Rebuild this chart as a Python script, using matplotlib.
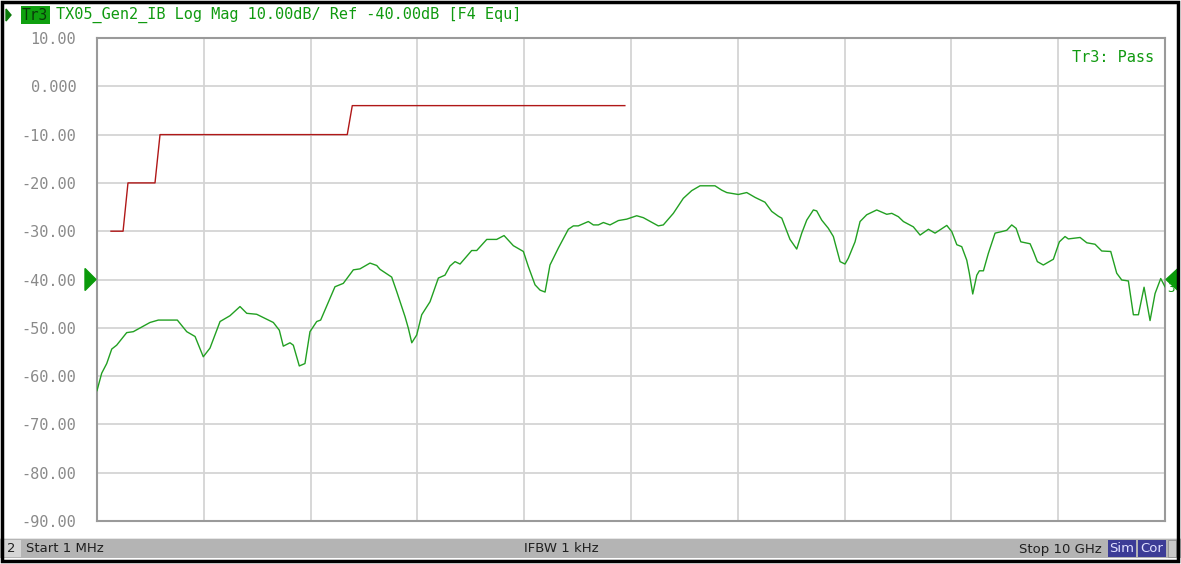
import matplotlib
matplotlib.use('Agg')
import matplotlib.pyplot as plt
from matplotlib.patches import Rectangle, Polygon
import numpy as np

W, H = 1181, 564

# measured trace, frequency in GHz, magnitude in dB
freq_ghz = [0.001, 0.045, 0.092, 0.139, 0.185, 0.279, 0.341, 0.497, 0.575, 0.753,
            0.841, 0.919, 0.996, 1.059, 1.153, 1.246, 1.340, 1.403, 1.496, 1.652,
            1.708, 1.745, 1.808, 1.839, 1.895, 1.948, 1.995, 2.058, 2.095, 2.229,
            2.307, 2.401, 2.463, 2.557, 2.620, 2.651, 2.760, 2.807, 2.885, 2.916,
            2.948, 2.994, 3.041, 3.119, 3.197, 3.259, 3.306, 3.353, 3.400, 3.509,
            3.556, 3.650, 3.743, 3.812, 3.899, 3.993, 4.039, 4.102, 4.149, 4.196,
            4.242, 4.320, 4.414, 4.461, 4.507, 4.601, 4.648, 4.695, 4.742, 4.804,
            4.882, 4.961, 5.054, 5.116, 5.256, 5.303, 5.397, 5.490, 5.569, 5.647,
            5.787, 5.850, 5.897, 6.005, 6.084, 6.162, 6.255, 6.318, 6.380, 6.412,
            6.489, 6.552, 6.599, 6.646, 6.708, 6.739, 6.786, 6.848, 6.895, 6.958,
            7.004, 7.035, 7.098, 7.145, 7.207, 7.301, 7.395, 7.442, 7.504, 7.551,
            7.644, 7.707, 7.785, 7.847, 7.957, 8.004, 8.051, 8.097, 8.144, 8.168,
            8.200, 8.238, 8.262, 8.300, 8.346, 8.409, 8.487, 8.519, 8.565, 8.606,
            8.650, 8.737, 8.768, 8.805, 8.861, 8.955, 9.011, 9.064, 9.095, 9.205,
            9.268, 9.345, 9.408, 9.492, 9.548, 9.595, 9.657, 9.704, 9.751, 9.804,
            9.860, 9.907, 9.960, 10.000]
trace_db = [-63.0, -59.4, -57.4, -54.4, -53.6, -51.0, -50.8, -48.9, -48.4, -48.4,
            -50.8, -51.8, -56.0, -54.2, -48.7, -47.5, -45.6, -47.0, -47.2, -48.9,
            -50.5, -53.8, -53.1, -53.6, -57.9, -57.4, -50.8, -48.7, -48.4, -41.5,
            -40.8, -38.0, -37.8, -36.6, -37.1, -37.9, -39.5, -42.5, -47.7, -50.1,
            -53.1, -51.5, -47.3, -44.6, -39.7, -39.1, -37.2, -36.3, -36.8, -34.0,
            -34.0, -31.7, -31.7, -30.9, -33.0, -34.2, -37.3, -41.1, -42.2, -42.6,
            -37.0, -33.5, -29.6, -28.9, -28.9, -28.0, -28.7, -28.7, -28.2, -28.7,
            -27.8, -27.5, -26.8, -27.2, -28.9, -28.7, -26.3, -23.2, -21.6, -20.6,
            -20.6, -21.5, -22.0, -22.4, -22.0, -23.0, -24.0, -25.9, -26.9, -27.3,
            -31.7, -33.7, -30.4, -27.7, -25.6, -25.8, -27.7, -29.4, -31.1, -36.3,
            -36.8, -35.6, -32.2, -28.0, -26.6, -25.6, -26.5, -26.3, -27.0, -28.0,
            -29.1, -30.8, -29.6, -30.4, -28.8, -30.1, -32.8, -33.2, -36.0, -38.7,
            -43.0, -39.1, -38.2, -38.2, -34.6, -30.4, -30.0, -29.8, -28.7, -29.4,
            -32.2, -32.6, -34.2, -36.3, -37.0, -35.8, -32.2, -31.1, -31.6, -31.3,
            -32.4, -32.7, -34.1, -34.2, -38.7, -40.1, -40.3, -47.3, -47.3, -41.6,
            -48.5, -42.9, -39.8, -41.5]

# limit line
limit_ghz = [0.132, 0.245, 0.291, 0.544, 0.591, 2.344, 2.391, 4.943]
limit_db = [-30, -30, -20, -20, -10, -10, -4, -4]

y_ticks = [10, 0, -10, -20, -30, -40, -50, -60, -70, -80, -90]
y_labels = ['10.00', '0.000', '-10.00', '-20.00', '-30.00', '-40.00',
            '-50.00', '-60.00', '-70.00', '-80.00', '-90.00']
ref_db = -40

GREEN = '#22a022'
TXT_GREEN = '#109a10'
MONO = 'DejaVu Sans Mono'


def fx(px):
    return px / W


def fy(py):
    return 1 - py / H


fig = plt.figure(figsize=(W / 100, H / 100), dpi=100)
fig.patch.set_facecolor('white')

# plot area
ax = fig.add_axes([fx(97), fy(521), (1165 - 97) / W, (521 - 38) / H])
ax.plot(freq_ghz, trace_db, color=GREEN, lw=1.0, zorder=3)
ax.plot(limit_ghz, limit_db, color='#b01818', lw=1.0, zorder=3)
ax.set_xlim(0.001, 10.0)
ax.set_ylim(-90, 10)
ax.set_xticks(np.linspace(0.001, 10.0, 11))
ax.set_xticklabels([])
ax.set_yticks(y_ticks)
ax.set_yticklabels(y_labels, family=MONO, fontsize=11, color='#8a8a8a')
ax.tick_params(length=0, pad=15)
ax.grid(True, color='#d4d4d4', lw=1.3)
for s in ax.spines.values():
    s.set_color('#9a9a9a')
    s.set_linewidth(1.5)

ax.text(0.99, 0.975, 'Tr3: Pass', transform=ax.transAxes, ha='right', va='top',
        family=MONO, fontsize=11, color=TXT_GREEN)

# reference level markers on both sides
yref = ax.transData.transform((0, ref_db))[1]
yr = 1 - (H - yref) / H
fig.patches.append(Polygon([[fx(85), yr + 11 / H], [fx(96), yr], [fx(85), yr - 11 / H]],
                           closed=True, transform=fig.transFigure, color='#0a9a0a'))
fig.patches.append(Polygon([[fx(1178), yr + 11 / H], [fx(1166), yr], [fx(1178), yr - 11 / H]],
                           closed=True, transform=fig.transFigure, color='#0a9a0a'))
fig.text(fx(1167), yr - 9 / H, '3', family=MONO, fontsize=9, color=TXT_GREEN, va='center')

# trace header
fig.patches.append(Polygon([[fx(6), fy(9)], [fx(11), fy(15)], [fx(6), fy(21)]],
                           closed=True, transform=fig.transFigure, color='#0a7a0a'))
fig.text(fx(22), fy(15), 'Tr3', family=MONO, fontsize=10.5, color='#0a3a0a', va='center',
         bbox=dict(boxstyle='square,pad=0.1', fc='#0fa00f', ec='none'))
fig.text(fx(56), fy(15), 'TX05_Gen2_IB Log Mag 10.00dB/ Ref -40.00dB [F4 Equ]',
         family=MONO, fontsize=11, color=TXT_GREEN, va='center')

# status bar
fig.patches.append(Rectangle((0, fy(558)), 1, (558 - 539) / H, transform=fig.transFigure,
                             fc='#b4b4b4', ec='none'))
fig.patches.append(Rectangle((0, fy(539)), 1, 1.5 / H, transform=fig.transFigure,
                             fc='#e6e6e6', ec='none'))
fig.patches.append(Rectangle((fx(4), fy(557)), 17 / W, 17 / H, transform=fig.transFigure,
                             fc='#d6d6d6', ec='none'))
bar_y = fy(549)
sans = 'DejaVu Sans'
fig.text(fx(7), bar_y, '2', family=sans, fontsize=9.5, color='#202020', va='center')
fig.text(fx(26), bar_y, 'Start 1 MHz', family=sans, fontsize=9.5, color='#202020', va='center')
fig.text(fx(561), bar_y, 'IFBW 1 kHz', family=sans, fontsize=9.5, color='#202020',
         va='center', ha='center')
fig.text(fx(1102), bar_y, 'Stop 10 GHz', family=sans, fontsize=9.5, color='#202020',
         va='center', ha='right')
for x0, w, lab in [(1108, 28, 'Sim'), (1138, 28, 'Cor')]:
    fig.patches.append(Rectangle((fx(x0), fy(557)), w / W, 17 / H, transform=fig.transFigure,
                                 fc='#3c3c96', ec='none'))
    fig.text(fx(x0 + w / 2), bar_y, lab, family=sans, fontsize=9.5, color='#e0e0ff',
             va='center', ha='center')
fig.patches.append(Rectangle((fx(1168), fy(557)), 8 / W, 17 / H, transform=fig.transFigure,
                             fc='#c8c8c8', ec='#909090', lw=0.6))

# outer frame
fig.patches.append(Rectangle((fx(2), fy(561)), 1176 / W, 559 / H, transform=fig.transFigure,
                             fc='none', ec='black', lw=2.5))

fig.savefig('out.png', dpi=100, facecolor='white')
